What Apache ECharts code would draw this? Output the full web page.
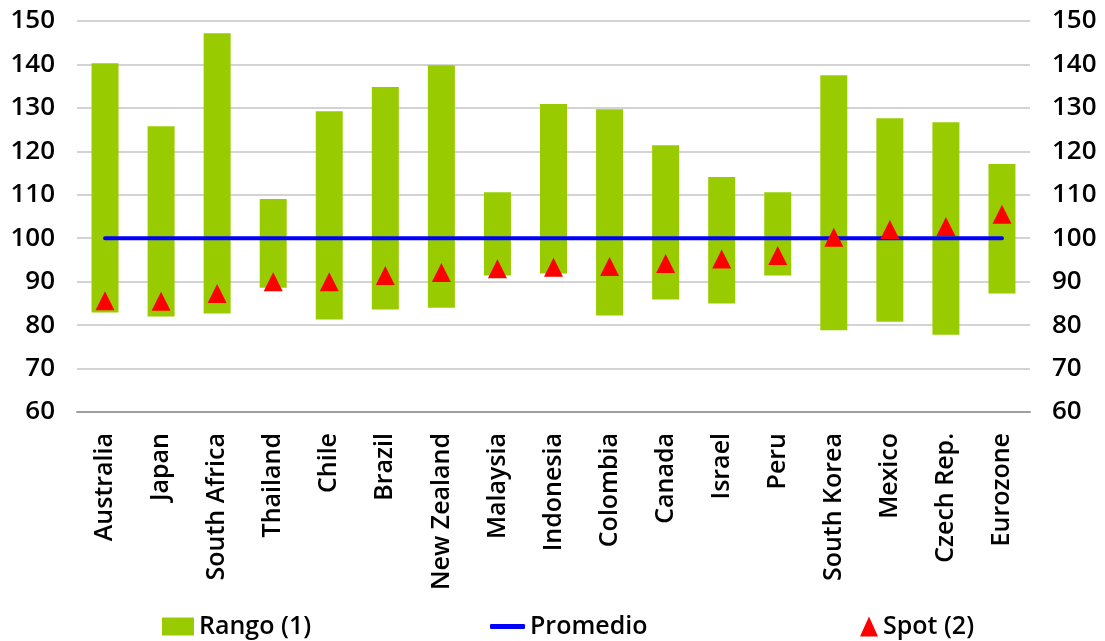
<!DOCTYPE html>
<html>
<head>
<meta charset="utf-8">
<script src="https://cdn.jsdelivr.net/npm/echarts@6/dist/echarts.min.js"></script>
<style>
  html, body { margin: 0; padding: 0; background: #fff; }
  #chart { width: 1105px; height: 641px; }
</style>
</head>
<body>
<div id="chart"></div>
<script>
// Currency valuation ranges per country
const categories = ['Australia', 'Japan', 'South Africa', 'Thailand', 'Chile', 'Brazil',
  'New Zealand', 'Malaysia', 'Indonesia', 'Colombia', 'Canada', 'Israel', 'Peru',
  'South Korea', 'Mexico', 'Czech Rep.', 'Eurozone'];
const rangeLow  = [82.9, 82.0, 82.7, 88.6, 81.3, 83.6, 84.0, 91.4, 91.9, 82.2, 85.9, 85.0, 91.4, 78.8, 80.8, 77.8, 87.3];
const rangeHigh = [140.3, 125.8, 147.2, 109.0, 129.2, 134.8, 139.8, 110.6, 130.9, 129.7, 121.4, 114.1, 110.6, 137.5, 127.6, 126.7, 117.1];
const spot      = [85.6, 85.5, 87.3, 90.0, 90.0, 91.4, 92.1, 93.0, 93.3, 93.5, 94.2, 95.2, 96.0, 100.2, 102.0, 102.7, 105.5];
const average   = [100, 100, 100, 100, 100, 100, 100, 100, 100, 100, 100, 100, 100, 100, 100, 100, 100];
const yTicks = { min: 60, max: 150, interval: 10 };

const FONT = 'Open Sans';
const WEIGHT = 600;
const rangeSpan = rangeHigh.map((h, i) => +(h - rangeLow[i]).toFixed(2));

const valueAxis = (position) => ({
  type: 'value',
  position: position,
  min: yTicks.min,
  max: yTicks.max,
  interval: yTicks.interval,
  axisLine: { show: false },
  axisTick: { show: false },
  axisLabel: { color: '#000', fontFamily: FONT, fontWeight: WEIGHT, fontSize: 26, margin: 22 },
  splitLine: { show: position === 'left', lineStyle: { color: '#c4c4c4', width: 1.5 } }
});

const legendText = { color: '#000', fontFamily: FONT, fontWeight: WEIGHT, fontSize: 25 };

const option = {
  backgroundColor: '#fff',
  animation: false,
  grid: { left: 77, right: 75, top: 21, bottom: 229 },
  xAxis: {
    type: 'category',
    data: categories,
    axisLine: { lineStyle: { color: '#9f9f9f', width: 2 } },
    axisTick: { length: 8, lineStyle: { color: '#9f9f9f', width: 2 } },
    axisLabel: { rotate: 90, color: '#000', fontFamily: FONT, fontWeight: WEIGHT, fontSize: 25, margin: 21, interval: 0 }
  },
  yAxis: [valueAxis('left'), valueAxis('right')],
  legend: [
    { data: [{ name: 'Rango (1)', icon: 'rect' }], left: 157, top: 609, itemWidth: 32, itemHeight: 18, itemGap: 6, textStyle: legendText, selectedMode: false },
    { data: [{ name: 'Promedio', icon: 'roundRect' }], left: 485, top: 609, itemWidth: 35, itemHeight: 5, textStyle: legendText, selectedMode: false },
    { data: [{ name: 'Spot (2)', icon: 'triangle' }], left: 855, top: 609, itemWidth: 18, itemHeight: 20, textStyle: legendText, selectedMode: false }
  ],
  series: [
    {
      name: 'base',
      type: 'bar',
      stack: 'range',
      data: rangeLow,
      barWidth: 27,
      itemStyle: { color: 'transparent' },
      silent: true
    },
    {
      name: 'Rango (1)',
      type: 'bar',
      stack: 'range',
      data: rangeSpan,
      barWidth: 27,
      itemStyle: { color: '#99cc00' }
    },
    {
      name: 'Promedio',
      type: 'line',
      data: average,
      symbol: 'none',
      lineStyle: { color: '#0000ff', width: 4, cap: 'round' },
      itemStyle: { color: '#0000ff' },
      z: 3
    },
    {
      name: 'Spot (2)',
      type: 'scatter',
      data: spot,
      symbol: 'triangle',
      symbolSize: [19, 19],
      itemStyle: { color: '#ff0000', opacity: 1 },
      z: 4
    }
  ]
};

echarts.init(document.getElementById('chart'), null, { renderer: 'canvas' }).setOption(option);
</script>
</body>
</html>
